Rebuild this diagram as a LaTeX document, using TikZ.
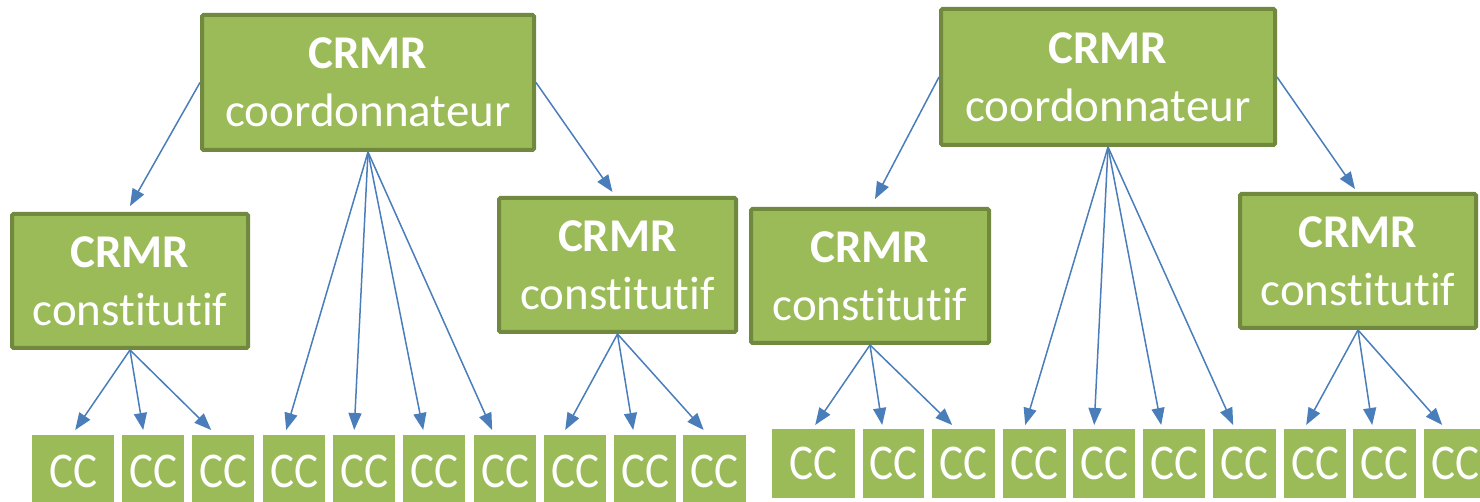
\documentclass[tikz,border=0pt]{standalone}
\usepackage{fontspec}
\setmainfont{Carlito}[Ligatures=NoCommon]
\usetikzlibrary{arrows.meta}
\definecolor{boxfill}{HTML}{9BBB59}
\definecolor{boxline}{HTML}{71893F}
\definecolor{arrowblue}{HTML}{4A7EBB}
\newcommand{\cctext}{\scalebox{0.9}[1]{CC}}
\newcommand{\constword}{const\kern0pt itut\kern0pt if}
\tikzset{
  bigbox/.style={draw=boxline, fill=boxfill, line width=4pt, rounded corners=1.5pt,
    text=white, align=center, font=\fontsize{47}{58}\selectfont, inner sep=0pt},
  ccbox/.style={fill=boxfill, text=white, font=\fontsize{50}{58}\selectfont,
    inner sep=0pt, anchor=north west},
  arr/.style={draw=arrowblue, line width=1.5pt, -{Triangle[length=17pt,width=13pt]}}
}
\begin{document}
\begin{tikzpicture}[x=1pt,y=-1pt]
\useasboundingbox (0,0) rectangle (1480,502);
\clip (0,0) rectangle (1480,502);
% big boxes
\node[bigbox, minimum width=332pt, minimum height=135pt] (coL) at (368,82.5) {\textbf{CRMR}\\coordonnateur};
\node[bigbox, minimum width=236pt, minimum height=134pt] (LL) at (130,281) {\textbf{CRMR}\\\constword};
\node[bigbox, minimum width=237pt, minimum height=134pt] (LR) at (617.5,265) {\textbf{CRMR}\\\constword};
\node[bigbox, minimum width=334pt, minimum height=136pt] (coR) at (1108,77) {\textbf{CRMR}\\coordonnateur};
\node[bigbox, minimum width=238pt, minimum height=134pt] (RL) at (870,276) {\textbf{CRMR}\\\constword};
\node[bigbox, minimum width=236pt, minimum height=134pt] (RR) at (1358,261) {\textbf{CRMR}\\\constword};
% CC boxes left
\node[ccbox, minimum width=82pt, minimum height=72pt] (a1) at (32,435) {\cctext};
\node[ccbox, minimum width=62pt, minimum height=72pt] (a2) at (122,435) {\cctext};
\node[ccbox, minimum width=62pt, minimum height=72pt] (a3) at (192,435) {\cctext};
\node[ccbox, minimum width=62pt, minimum height=72pt] (a4) at (263,435) {\cctext};
\node[ccbox, minimum width=62pt, minimum height=72pt] (a5) at (333,435) {\cctext};
\node[ccbox, minimum width=62pt, minimum height=72pt] (a6) at (403,435) {\cctext};
\node[ccbox, minimum width=62pt, minimum height=72pt] (a7) at (474,435) {\cctext};
\node[ccbox, minimum width=62pt, minimum height=72pt] (a8) at (544,435) {\cctext};
\node[ccbox, minimum width=62pt, minimum height=72pt] (a9) at (614,435) {\cctext};
\node[ccbox, minimum width=63pt, minimum height=72pt] (a10) at (683,435) {\cctext};
% CC boxes right
\node[ccbox, minimum width=83pt, minimum height=69pt] (b1) at (772,429) {\cctext};
\node[ccbox, minimum width=61pt, minimum height=69pt] (b2) at (863,429) {\cctext};
\node[ccbox, minimum width=63pt, minimum height=69pt] (b3) at (932,429) {\cctext};
\node[ccbox, minimum width=63pt, minimum height=69pt] (b4) at (1003,429) {\cctext};
\node[ccbox, minimum width=62pt, minimum height=69pt] (b5) at (1073,429) {\cctext};
\node[ccbox, minimum width=62pt, minimum height=69pt] (b6) at (1143,429) {\cctext};
\node[ccbox, minimum width=63pt, minimum height=69pt] (b7) at (1213,429) {\cctext};
\node[ccbox, minimum width=62pt, minimum height=69pt] (b8) at (1284,429) {\cctext};
\node[ccbox, minimum width=63pt, minimum height=69pt] (b9) at (1353,429) {\cctext};
\node[ccbox, minimum width=63pt, minimum height=69pt] (b10) at (1424,429) {\cctext};
% arrows left group
\draw[arr] (coL.west) -- ([yshift=6pt]LL.north);
\draw[arr] (coL.east) -- ([xshift=-5pt,yshift=4pt]LR.north);
\draw[arr] (coL.south) -- ([xshift=-8pt,yshift=5pt]a4.north);
\draw[arr] (coL.south) -- ([xshift=-10pt,yshift=5pt]a5.north);
\draw[arr] (coL.south) -- ([xshift=-11pt,yshift=5pt]a6.north);
\draw[arr] (coL.south) -- ([xshift=-13pt,yshift=5pt]a7.north);
\draw[arr] (LL.south) -- ([xshift=2pt,yshift=5pt]a1.north);
\draw[arr] (LL.south) -- ([xshift=-10pt,yshift=5pt]a2.north);
\draw[arr] (LL.south) -- ([xshift=-12pt,yshift=5pt]a3.north);
\draw[arr] (LR.south) -- ([xshift=-10pt,yshift=5pt]a8.north);
\draw[arr] (LR.south) -- ([xshift=-12pt,yshift=5pt]a9.north);
\draw[arr] (LR.south) -- ([xshift=-11pt,yshift=5pt]a10.north);
% arrows right group
\draw[arr] (coR.west) -- ([xshift=5pt,yshift=8pt]RL.north);
\draw[arr] (coR.east) -- ([xshift=-3pt,yshift=3pt]RR.north);
\draw[arr] (coR.south) -- ([xshift=-9.5pt,yshift=4pt]b4.north);
\draw[arr] (coR.south) -- ([xshift=-10pt,yshift=4pt]b5.north);
\draw[arr] (coR.south) -- ([xshift=-13pt,yshift=4pt]b6.north);
\draw[arr] (coR.south) -- ([xshift=-11.5pt,yshift=4pt]b7.north);
\draw[arr] (RL.south) -- ([xshift=1.5pt,yshift=4pt]b1.north);
\draw[arr] (RL.south) -- ([xshift=-11.5pt,yshift=4pt]b2.north);
\draw[arr] (RL.south) -- ([xshift=-11.5pt,yshift=4pt]b3.north);
\draw[arr] (RR.south) -- ([xshift=-9pt,yshift=4pt]b8.north);
\draw[arr] (RR.south) -- ([xshift=-12.5pt,yshift=4pt]b9.north);
\draw[arr] (RR.south) -- ([xshift=-13.5pt,yshift=4pt]b10.north);
\end{tikzpicture}
\end{document}
